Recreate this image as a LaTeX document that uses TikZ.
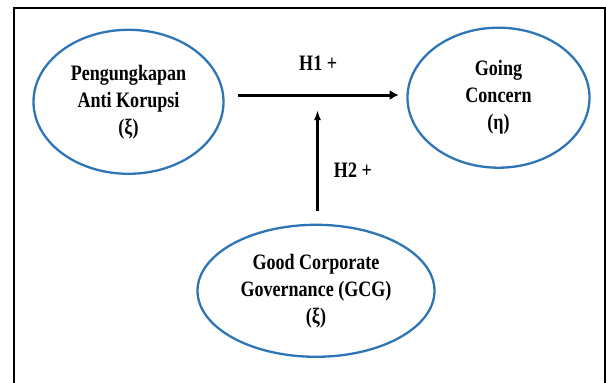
\documentclass[tikz,border=0pt]{standalone}
\usepackage{fontspec}
\setmainfont[FakeStretch=0.82]{Liberation Serif}
\usetikzlibrary{shapes.geometric,arrows.meta}
\definecolor{ellblue}{RGB}{46,117,182}
\begin{document}
\begin{tikzpicture}[x=1pt,y=-1pt,
  var/.style={ellipse,draw=ellblue,line width=2.3pt,align=center,font=\fontsize{22}{27}\selectfont\bfseries},
  hyp/.style={font=\fontsize{22}{27}\selectfont\bfseries},
  path/.style={-{Latex[length=9pt,width=10pt]},line width=3pt}]
\useasboundingbox (0,0) rectangle (606,383);
\draw[line width=2pt] (13.5,383)--(13.5,7.5)--(604.8,7.5)--(604.8,383);
\node[var,minimum width=190pt,minimum height=144pt] (anti) at (128.5,101.8) {Pengungkapan\\Anti Korupsi\\(ξ)};
\node[var,minimum width=182pt,minimum height=140pt] (going) at (498.5,97.7) {Going\\Concern\\(η)};
\node[var,minimum width=237pt,minimum height=132pt] (gcg) at (316,290.8) {Good Corporate\\Governance (GCG)\\(ξ)};
\coordinate (tip) at (317.5,110);
\draw[path] ([shift={(13,-6.8)}]anti.east) -- ([shift={(-7.7,-2.7)}]going.west) node[hyp,midway,above=20pt] (h1) {H1 +};
\draw[-{Latex[length=10pt,width=7pt]},line width=2.3pt] ([shift={(1.5,-13)}]gcg.north) -- (tip) node[hyp,pos=0.4,right=12pt] (h2) {H2 +};
\end{tikzpicture}
\end{document}
